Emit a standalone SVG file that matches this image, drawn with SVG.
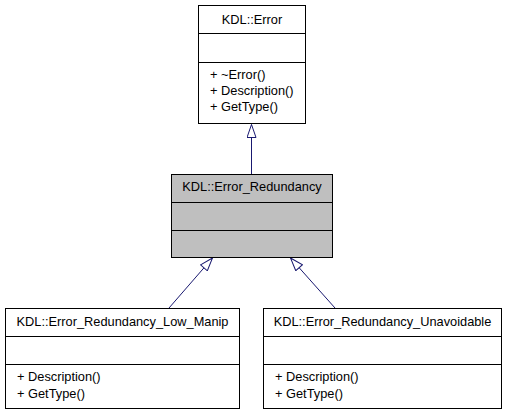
<svg xmlns="http://www.w3.org/2000/svg" width="507" height="416" viewBox="0 0 507 416">
<style>
.box{fill:#ffffff;stroke:#000000;stroke-width:1}
.gray{fill:#bfbfbf}
.div{stroke:#000000;stroke-width:1}
text{font-family:"Liberation Sans",Arial,sans-serif;font-size:12.8px;fill:#000000}
.c{text-anchor:middle}
.edge{stroke:#191970;stroke-width:1;fill:none;marker-end:url(#inh)}
</style>
<defs>
<marker id="inh" viewBox="0 0 15 10" refX="14" refY="5" markerWidth="15" markerHeight="10" markerUnits="userSpaceOnUse" orient="auto">
<path d="M1,0.5 L14,5 L1,9.5 z" fill="#ffffff" stroke="#191970" stroke-width="1"/>
</marker>
</defs>
<rect width="507" height="416" fill="#ffffff"/>
<g id="connectors">
<line class="edge" x1="251.5" y1="174" x2="251.5" y2="124.5"/>
<line class="edge" x1="169" y1="308" x2="212.5" y2="258"/>
<line class="edge" x1="335" y1="308" x2="290.5" y2="258"/>
</g>
<g id="node-error">
<rect class="box" x="198.5" y="5.5" width="107" height="118"/>
<line class="div" x1="198.5" y1="33.5" x2="305.5" y2="33.5"/>
<line class="div" x1="198.5" y1="62.5" x2="305.5" y2="62.5"/>
<text class="c" x="252" y="24">KDL::Error</text>
<text x="210" y="79">+ ~Error()</text>
<text x="210" y="95">+ Description()</text>
<text x="210" y="111">+ GetType()</text>
</g>
<g id="node-error-redundancy">
<rect class="box gray" x="171.5" y="174.5" width="161" height="83"/>
<line class="div" x1="171.5" y1="202.5" x2="332.5" y2="202.5"/>
<line class="div" x1="171.5" y1="230.5" x2="332.5" y2="230.5"/>
<text class="c" x="252" y="191">KDL::Error_Redundancy</text>
</g>
<g id="node-low-manip">
<rect class="box" x="5.5" y="308.5" width="234" height="100"/>
<line class="div" x1="5.5" y1="336.5" x2="239.5" y2="336.5"/>
<line class="div" x1="5.5" y1="364.5" x2="239.5" y2="364.5"/>
<text class="c" x="122.5" y="326">KDL::Error_Redundancy_Low_Manip</text>
<text x="17" y="381">+ Description()</text>
<text x="17" y="398">+ GetType()</text>
</g>
<g id="node-unavoidable">
<rect class="box" x="263.5" y="308.5" width="238" height="100"/>
<line class="div" x1="263.5" y1="336.5" x2="501.5" y2="336.5"/>
<line class="div" x1="263.5" y1="364.5" x2="501.5" y2="364.5"/>
<text class="c" x="382.5" y="326">KDL::Error_Redundancy_Unavoidable</text>
<text x="275" y="381">+ Description()</text>
<text x="275" y="398">+ GetType()</text>
</g>
</svg>
